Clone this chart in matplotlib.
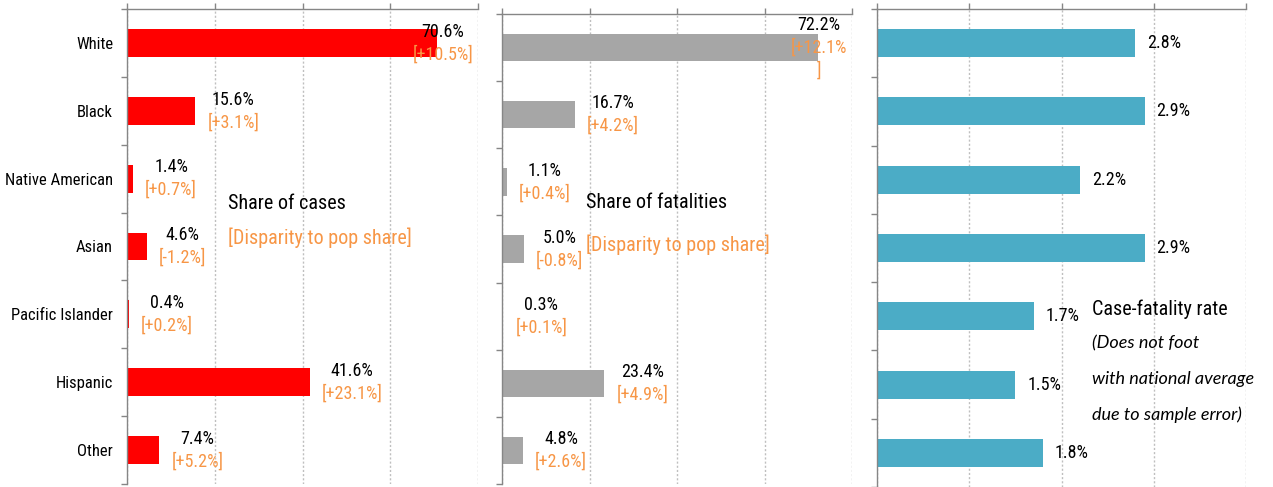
import numpy as np
import matplotlib
matplotlib.use("Agg")
import matplotlib.pyplot as plt
from matplotlib.transforms import offset_copy

plt.rcParams["font.family"] = ["Liberation Sans Narrow", "Roboto Condensed", "DejaVu Sans"]

categories = ["White", "Black", "Native American", "Asian", "Pacific Islander", "Hispanic", "Other"]
case_share = [70.6, 15.6, 1.4, 4.6, 0.4, 41.6, 7.4]
case_disparity = [10.5, 3.1, 0.7, -1.2, 0.2, 23.1, 5.2]
fatality_share = [72.2, 16.7, 1.1, 5.0, 0.3, 23.4, 4.8]
fatality_disparity = [12.1, 4.2, 0.4, -0.8, 0.1, 4.9, 2.6]
fatality_wrapped = ["White"]   # label that wraps its closing bracket in the original
case_fatality_rate = [2.8, 2.9, 2.2, 2.9, 1.7, 1.5, 1.8]

RED = "#FF0000"
GREY = "#A6A6A6"
TEAL = "#4BACC6"
ORANGE = "#F79646"
AXIS = "#868686"
GRID = "#BFBFBF"

W, H = 1273, 487
fig = plt.figure(figsize=(W / 100, H / 100), dpi=100)


def add_axes_px(x0, x1, y0, y1):
    return fig.add_axes([x0 / W, (H - y1) / H, (x1 - x0) / W, (y1 - y0) / H])


def style_axes(ax, xmax, step, show_labels=False):
    n = len(categories)
    ax.set_xlim(0, xmax)
    ax.set_ylim(n - 0.5, -0.5)
    ax.set_axisbelow(True)
    ax.set_xticks(np.arange(0, xmax + step / 2, step))
    ax.tick_params(axis="x", top=True, bottom=False, labeltop=False, labelbottom=False,
                   length=4, width=1, color=AXIS)
    ax.grid(axis="x", color=GRID, linestyle=(0, (1.5, 1.5)), linewidth=1)
    ax.set_yticks(np.arange(-0.5, n, 1))
    ax.set_yticklabels([])
    ax.tick_params(axis="y", which="major", length=4, width=1, color=AXIS)
    ax.set_yticks(np.arange(n), minor=True)
    if show_labels:
        ax.set_yticklabels(categories, minor=True, fontsize=12)
    ax.tick_params(axis="y", which="minor", length=0, pad=10)
    for side in ["right", "bottom"]:
        ax.spines[side].set_visible(False)
    for side in ["left", "top"]:
        ax.spines[side].set_color(AXIS)
        ax.spines[side].set_linewidth(1)


def share_labels(ax, xmax, values, disparities, wrapped=()):
    renderer = fig.canvas.get_renderer()
    ppu = ax.bbox.width / xmax
    for i, (v, d) in enumerate(zip(values, disparities)):
        disp = f"[{d:+.1f}%]"
        lines = [(f"{v:.1f}%", "black")]
        if categories[i] in wrapped:
            lines += [(disp[:-1], ORANGE), (disp[-1], ORANGE)]
        else:
            lines.append((disp, ORANGE))
        texts = [ax.text(v, i, s, color=c, ha="center", va="center", fontsize=13) for s, c in lines]
        wmax = max(t.get_window_extent(renderer).width for t in texts)
        cx = v * ppu + 12 + wmax / 2
        cx = min(cx, ax.bbox.width - 5 - wmax / 2)
        n = len(texts)
        for k, t in enumerate(texts):
            dy = ((n - 1) / 2 - k) * 22.5
            t.set_transform(offset_copy(ax.transData, fig=fig, x=cx - v * ppu, y=dy, units="dots"))


y = np.arange(len(categories))

# share of cases
ax1 = add_axes_px(127, 478, 9, 484)
style_axes(ax1, 80, 20, show_labels=True)
ax1.barh(y, case_share, height=0.41, color=RED)
share_labels(ax1, 80, case_share, case_disparity)
ax1.text(0.288, 0.59, "Share of cases", transform=ax1.transAxes, fontsize=14.5, va="center")
ax1.text(0.288, 0.518, "[Disparity to pop share]", transform=ax1.transAxes, fontsize=14.5,
         va="center", color=ORANGE)

# share of fatalities
ax2 = add_axes_px(502, 852, 14, 484)
style_axes(ax2, 80, 20)
ax2.barh(y, fatality_share, height=0.41, color=GREY)
share_labels(ax2, 80, fatality_share, fatality_disparity, fatality_wrapped)
ax2.text(0.24, 0.598, "Share of fatalities", transform=ax2.transAxes, fontsize=14.5, va="center")
ax2.text(0.24, 0.509, "[Disparity to pop share]", transform=ax2.transAxes, fontsize=14.5,
         va="center", color=ORANGE)

# case-fatality rate
ax3 = add_axes_px(877, 1246, 9, 487)
style_axes(ax3, 4, 1)
ax3.barh(y, case_fatality_rate, height=0.41, color=TEAL)
for i, v in enumerate(case_fatality_rate):
    ax3.annotate(f"{v:.1f}%", xy=(v, i), xytext=(12, 0), textcoords="offset pixels",
                 ha="left", va="center", fontsize=13)
ax3.text(0.583, 0.372, "Case-fatality rate", transform=ax3.transAxes, fontsize=14.5, va="center")
notes = ["(Does not foot", "with national average", "due to sample error)"]
for k, line in enumerate(notes):
    ax3.text(0.583, 0.301 - 0.075 * k, line, transform=ax3.transAxes, fontsize=13,
             va="center", style="italic", family=["Lato", "DejaVu Sans"])

fig.savefig("out.png", dpi=100)
